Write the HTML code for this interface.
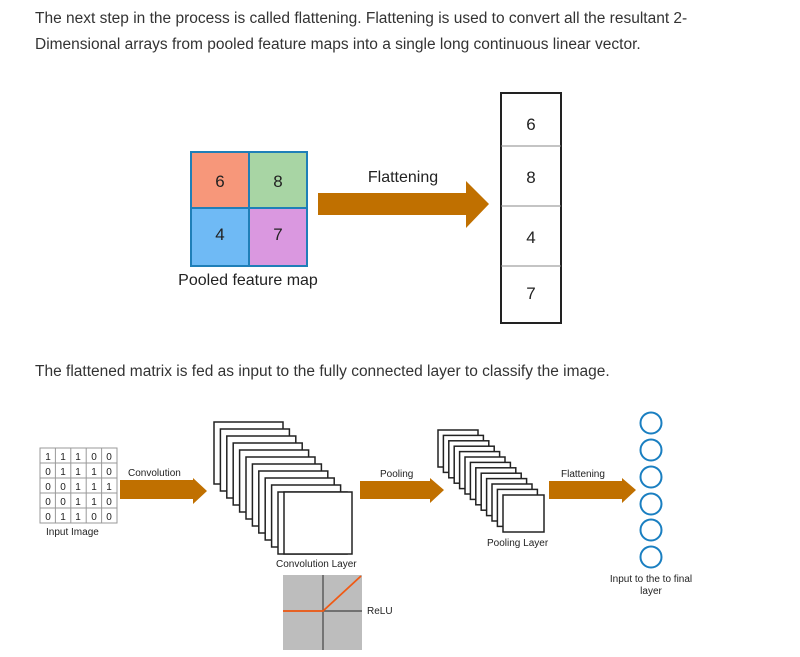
<!DOCTYPE html>
<html><head><meta charset="utf-8"><style>
body{margin:0;width:800px;height:657px;background:#fff;overflow:hidden;font-family:"Liberation Sans",sans-serif;}
.p{position:absolute;left:35px;font-size:15.5px;color:#333;line-height:26px;}
</style></head><body>
<div class="p" style="top:6px">The next step in the process is called flattening. Flattening is used to convert all the resultant 2-<br>Dimensional arrays from pooled feature maps into a single long continuous linear vector.</div>
<div class="p" style="top:359px">The flattened matrix is fed as input to the fully connected layer to classify the image.</div>
<svg width="800" height="657" style="position:absolute;left:0;top:0" font-family="Liberation Sans, sans-serif">
<rect x="191" y="152" width="58" height="56" fill="#f7977a"/>
<rect x="249" y="152" width="58" height="56" fill="#a8d5a4"/>
<rect x="191" y="208" width="58" height="58" fill="#6fbaf5"/>
<rect x="249" y="208" width="58" height="58" fill="#da98e0"/>
<g stroke="#1f7fb8" stroke-width="2" fill="none"><rect x="191" y="152" width="116" height="114"/><line x1="249" y1="152" x2="249" y2="266"/><line x1="191" y1="208" x2="307" y2="208"/></g>
<g font-size="17" fill="#222" text-anchor="middle"><text x="220" y="187">6</text><text x="278" y="187">8</text><text x="220" y="240">4</text><text x="278" y="240">7</text></g>
<text x="248" y="285" font-size="16" fill="#222" text-anchor="middle">Pooled feature map</text>
<text x="403" y="182" font-size="16" fill="#222" text-anchor="middle">Flattening</text>
<polygon points="318,193 466,193 466,181 489,204 466,228 466,215 318,215" fill="#c07000"/>
<g stroke="#222" stroke-width="2" fill="#fff"><rect x="501" y="93" width="60" height="230"/></g>
<g stroke="#888" stroke-width="1"><line x1="501" y1="146" x2="561" y2="146"/><line x1="501" y1="206" x2="561" y2="206"/><line x1="501" y1="266" x2="561" y2="266"/></g>
<g font-size="17" fill="#222" text-anchor="middle"><text x="531" y="130">6</text><text x="531" y="183">8</text><text x="531" y="243">4</text><text x="531" y="299">7</text></g>
<g stroke="#999" stroke-width="1" fill="none">
<rect x="40" y="448" width="77" height="75"/>
<line x1="55.4" y1="448" x2="55.4" y2="523"/><line x1="70.8" y1="448" x2="70.8" y2="523"/><line x1="86.2" y1="448" x2="86.2" y2="523"/><line x1="101.6" y1="448" x2="101.6" y2="523"/>
<line x1="40" y1="463" x2="117" y2="463"/><line x1="40" y1="478" x2="117" y2="478"/><line x1="40" y1="493" x2="117" y2="493"/><line x1="40" y1="508" x2="117" y2="508"/>
</g>
<g font-size="10" fill="#222" text-anchor="middle">
<text x="48" y="460">1</text><text x="63" y="460">1</text><text x="78" y="460">1</text><text x="94" y="460">0</text><text x="109" y="460">0</text>
<text x="48" y="475">0</text><text x="63" y="475">1</text><text x="78" y="475">1</text><text x="94" y="475">1</text><text x="109" y="475">0</text>
<text x="48" y="490">0</text><text x="63" y="490">0</text><text x="78" y="490">1</text><text x="94" y="490">1</text><text x="109" y="490">1</text>
<text x="48" y="505">0</text><text x="63" y="505">0</text><text x="78" y="505">1</text><text x="94" y="505">1</text><text x="109" y="505">0</text>
<text x="48" y="520">0</text><text x="63" y="520">1</text><text x="78" y="520">1</text><text x="94" y="520">0</text><text x="109" y="520">0</text>
</g>
<g font-size="10" fill="#222">
<text x="46" y="535">Input Image</text>
<text x="128" y="476">Convolution</text>
<text x="380" y="477">Pooling</text>
<text x="561" y="477">Flattening</text>
<text x="276" y="567">Convolution Layer</text>
<text x="487" y="546">Pooling Layer</text>
<text x="367" y="614">ReLU</text>
<text x="651" y="582" text-anchor="middle">Input to the to final</text>
<text x="651" y="594" text-anchor="middle">layer</text>
</g>
<polygon points="120,480 193,480 193,478 207,491 193,504 193,499 120,499" fill="#c07000"/>
<polygon points="360,481 430,481 430,478 444,490 430,503 430,499 360,499" fill="#c07000"/>
<polygon points="549,481 622,481 622,478 636,490 622,503 622,499 549,499" fill="#c07000"/>
<g stroke="#222" stroke-width="1.5" fill="#fff">
<rect x="214" y="422" width="69" height="62"/><rect x="220.4" y="429" width="69" height="62"/><rect x="226.8" y="436" width="69" height="62"/><rect x="233.2" y="443" width="69" height="62"/><rect x="239.6" y="450" width="69" height="62"/><rect x="246" y="457" width="69" height="62"/><rect x="252.4" y="464" width="69" height="62"/><rect x="258.8" y="471" width="69" height="62"/><rect x="265.2" y="478" width="69" height="62"/><rect x="271.6" y="485" width="69" height="62"/><rect x="278" y="492" width="69" height="62"/><rect x="284" y="492" width="68" height="62"/>
</g>
<g stroke="#222" stroke-width="1.5" fill="#fff">
<rect x="438" y="430" width="40" height="37"/><rect x="443.4" y="435.4" width="40" height="37"/><rect x="448.8" y="440.8" width="40" height="37"/><rect x="454.2" y="446.2" width="40" height="37"/><rect x="459.6" y="451.6" width="40" height="37"/><rect x="465" y="457" width="40" height="37"/><rect x="470.4" y="462.4" width="40" height="37"/><rect x="475.8" y="467.8" width="40" height="37"/><rect x="481.2" y="473.2" width="40" height="37"/><rect x="486.6" y="478.6" width="40" height="37"/><rect x="492" y="484" width="40" height="37"/><rect x="497.4" y="489.4" width="40" height="37"/><rect x="503" y="495" width="41" height="37"/>
</g>
<rect x="283" y="575" width="79" height="75" fill="#bdbdbd"/>
<line x1="323" y1="575" x2="323" y2="650" stroke="#444" stroke-width="1.2"/>
<line x1="283" y1="611" x2="362" y2="611" stroke="#444" stroke-width="1.2"/>
<polyline points="283,611 323,611 361,576" fill="none" stroke="#f05a14" stroke-width="1.8"/>
<g stroke="#1a7fc1" stroke-width="2" fill="none">
<circle cx="651" cy="423" r="10.5"/><circle cx="651" cy="450" r="10.5"/><circle cx="651" cy="477" r="10.5"/><circle cx="651" cy="504" r="10.5"/><circle cx="651" cy="530" r="10.5"/><circle cx="651" cy="557" r="10.5"/>
</g>
</svg>
</body></html>
